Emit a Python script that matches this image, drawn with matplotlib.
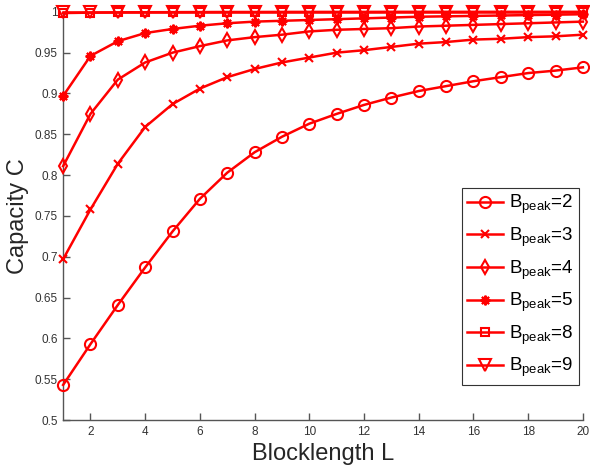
import numpy as np
import matplotlib
matplotlib.use("Agg")
import matplotlib.pyplot as plt

plt.rcParams['font.family'] = ['Liberation Sans', 'DejaVu Sans']
plt.rcParams['mathtext.fontset'] = 'custom'
plt.rcParams['mathtext.rm'] = 'Liberation Sans'
plt.rcParams['mathtext.it'] = 'Liberation Sans:italic'

L = np.arange(1, 21)

# capacity values
cap_b2 = [0.543, 0.593, 0.641, 0.687, 0.731, 0.771, 0.803, 0.828, 0.847, 0.863,
          0.875, 0.886, 0.895, 0.903, 0.909, 0.915, 0.920, 0.925, 0.928, 0.932]
cap_b3 = [0.697, 0.758, 0.814, 0.859, 0.887, 0.906, 0.920, 0.930, 0.938, 0.944,
          0.950, 0.953, 0.957, 0.961, 0.963, 0.966, 0.967, 0.969, 0.970, 0.972]
cap_b4 = [0.811, 0.875, 0.917, 0.938, 0.950, 0.958, 0.965, 0.969, 0.972, 0.976,
          0.978, 0.979, 0.980, 0.982, 0.983, 0.984, 0.985, 0.986, 0.987, 0.988]
cap_b5 = [0.897, 0.946, 0.964, 0.974, 0.979, 0.983, 0.986, 0.988, 0.989, 0.990,
          0.991, 0.992, 0.993, 0.994, 0.9945, 0.995, 0.9955, 0.996, 0.9965, 0.997]
cap_b8 = [0.9985, 0.999, 0.9993, 0.9995, 0.9996, 0.9997, 0.9998, 0.9998, 0.9999, 0.9999,
          0.9999, 0.9999, 1.0, 1.0, 1.0, 1.0, 1.0, 1.0, 1.0, 1.0]
cap_b9 = [1.0] * 20

series = [(cap_b2, 'o', 8, 2), (cap_b3, 'x', 6, 3), (cap_b4, 'd', 7.5, 4),
          (cap_b5, (8, 2, 0), 7, 5), (cap_b8, 's', 6, 8), (cap_b9, 'v', 8, 9)]

fig = plt.figure(figsize=(5.9, 4.73), dpi=100)
ax = fig.add_axes([0.107, 0.112, 0.881, 0.863])

for vals, mk, ms, b in series:
    ax.plot(L, vals, color='red', linewidth=1.8, marker=mk, markersize=ms,
            markerfacecolor='none', markeredgecolor='red', markeredgewidth=1.5,
            label=r'B$_{\mathrm{peak}}$=%d' % b, clip_on=False, zorder=3)

ax.set_xlim(1, 20)
ax.set_ylim(0.5, 1.0)
ax.set_xticks(np.arange(2, 21, 2))
ax.set_yticks(np.arange(0.5, 1.001, 0.05))
ax.set_yticklabels(['0.5', '0.55', '0.6', '0.65', '0.7', '0.75', '0.8',
                    '0.85', '0.9', '0.95', '1'])

for s in ['top', 'right']:
    ax.spines[s].set_visible(False)
for s in ['left', 'bottom']:
    ax.spines[s].set_color('#555555')
    ax.spines[s].set_linewidth(1.0)
ax.tick_params(direction='in', length=5, width=1.0, color='#555555',
               labelsize=8.5, labelcolor='#333333', pad=4)

ax.set_xlabel('Blocklength L', fontsize=17, color='#262626', labelpad=4)
ax.set_ylabel('Capacity C', fontsize=17, color='#262626', labelpad=4)

leg = ax.legend(loc='lower right', bbox_to_anchor=(0.992, 0.086), borderaxespad=0,
                fontsize=13.5, handlelength=1.9, handletextpad=0.3,
                labelspacing=0.5, borderpad=0.3, fancybox=False, framealpha=1)
leg.get_frame().set_edgecolor('#333333')
leg.get_frame().set_linewidth(0.8)

fig.savefig('out.png', dpi=100)
